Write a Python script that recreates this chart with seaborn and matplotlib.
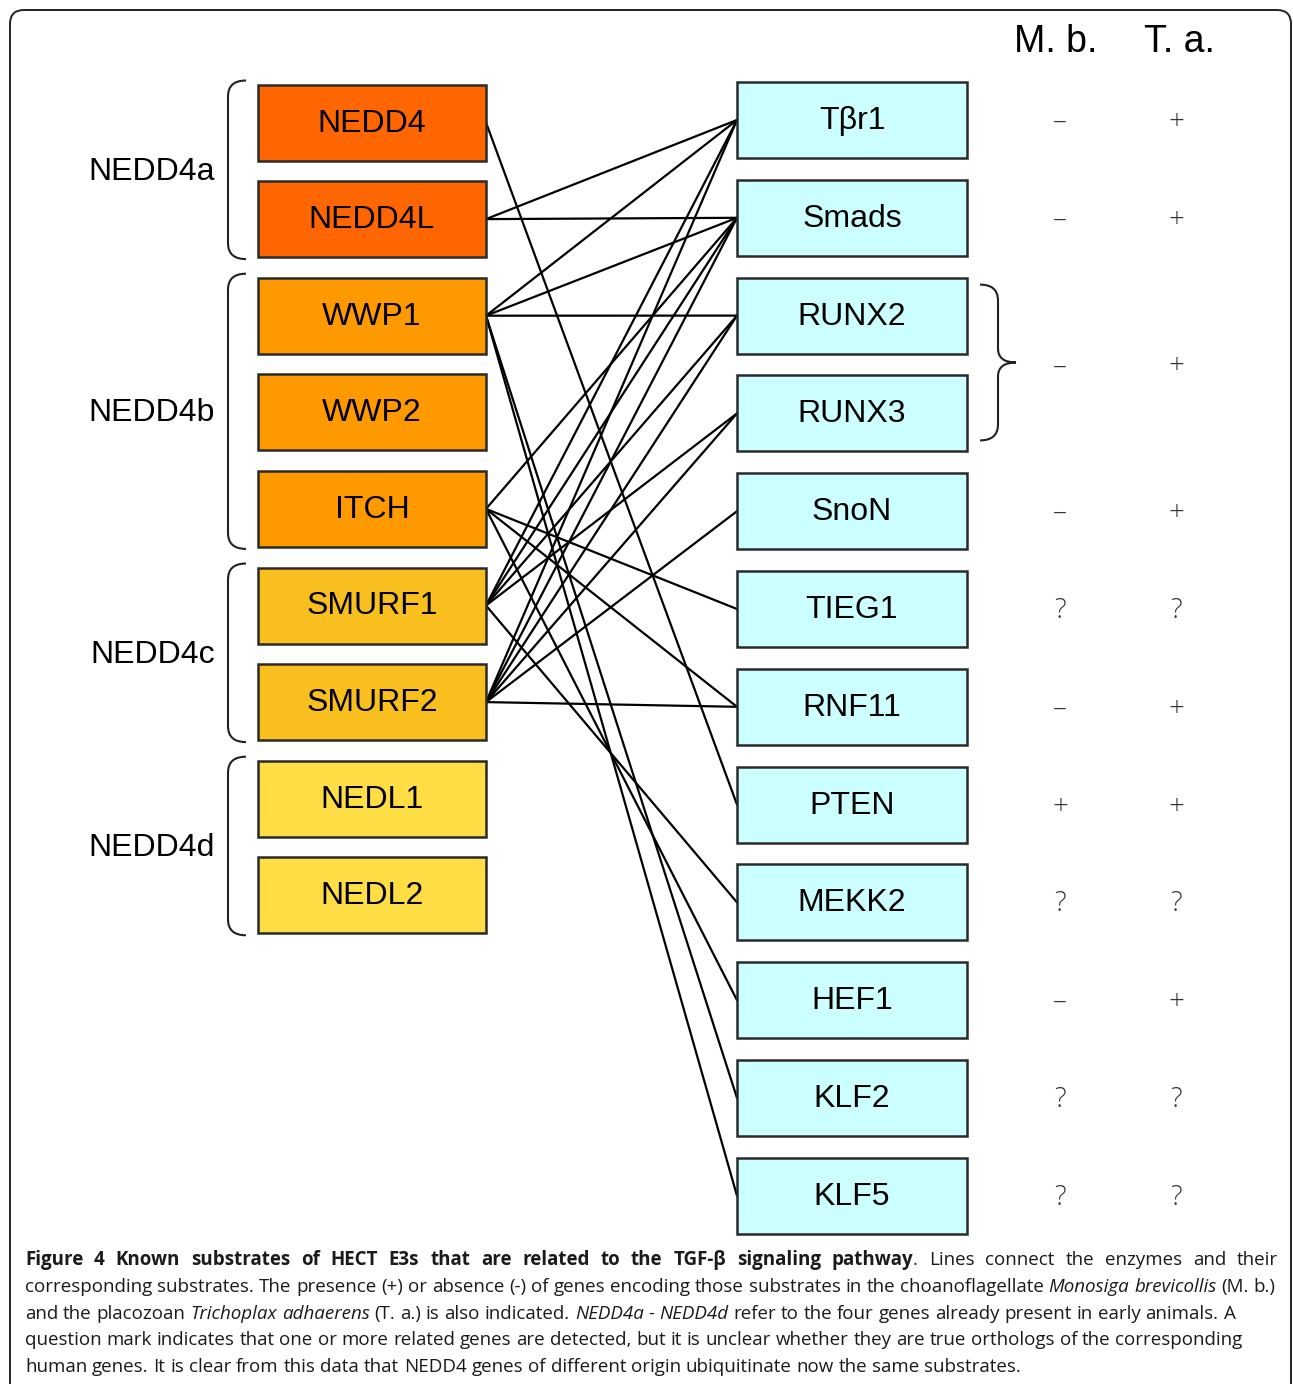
import numpy as np
import pandas as pd
import matplotlib
matplotlib.use("Agg")
import matplotlib.pyplot as plt
import seaborn as sns
from matplotlib.patches import FancyBboxPatch, PathPatch
from matplotlib.path import Path

sns.set_style("white")
plt.rcParams["font.family"] = ["Liberation Sans", "DejaVu Sans"]

# enzymes (left column) and the NEDD4 subfamily they belong to
enzymes = ["NEDD4", "NEDD4L", "WWP1", "WWP2", "ITCH", "SMURF1", "SMURF2", "NEDL1", "NEDL2"]
enzyme_group = ["NEDD4a", "NEDD4a", "NEDD4b", "NEDD4b", "NEDD4b", "NEDD4c", "NEDD4c", "NEDD4d", "NEDD4d"]
group_names = ["NEDD4a", "NEDD4b", "NEDD4c", "NEDD4d"]
group_colors = ["#FF6600", "#FF9900", "#F8BF1E", "#FFDD44"]

# substrates (right column)
substrates = ["Tβr1", "Smads", "RUNX2", "RUNX3", "SnoN", "TIEG1", "RNF11",
              "PTEN", "MEKK2", "HEF1", "KLF2", "KLF5"]

# enzyme -> substrate links
links = [("NEDD4", "PTEN"),
         ("NEDD4L", "Tβr1"), ("NEDD4L", "Smads"),
         ("WWP1", "Tβr1"), ("WWP1", "Smads"), ("WWP1", "RUNX2"), ("WWP1", "KLF2"), ("WWP1", "KLF5"),
         ("ITCH", "Smads"), ("ITCH", "TIEG1"), ("ITCH", "RNF11"), ("ITCH", "HEF1"),
         ("SMURF1", "Tβr1"), ("SMURF1", "Smads"), ("SMURF1", "RUNX2"), ("SMURF1", "RUNX3"), ("SMURF1", "MEKK2"),
         ("SMURF2", "Tβr1"), ("SMURF2", "Smads"), ("SMURF2", "RUNX2"), ("SMURF2", "RUNX3"),
         ("SMURF2", "SnoN"), ("SMURF2", "RNF11")]

# presence in M. brevicollis / T. adhaerens (RUNX2 + RUNX3 share one row)
presence_rows = [["Tβr1"], ["Smads"], ["RUNX2", "RUNX3"], ["SnoN"], ["TIEG1"], ["RNF11"],
                 ["PTEN"], ["MEKK2"], ["HEF1"], ["KLF2"], ["KLF5"]]
mb_marks = ["–", "–", "–", "–", "?", "–", "+", "?", "–", "?", "?"]
ta_marks = ["+", "+", "+", "+", "?", "+", "+", "?", "+", "?", "?"]

caption = [
    [("Figure 4 Known substrates of HECT E3s that are related to the TGF-β signaling pathway", "b"),
     (". Lines connect the enzymes and their", "r")],
    [("corresponding substrates. The presence (+) or absence (-) of genes encoding those substrates in the choanoflagellate ", "r"),
     ("Monosiga brevicollis", "i"), (" (M. b.)", "r")],
    [("and the placozoan ", "r"), ("Trichoplax adhaerens", "i"), (" (T. a.) is also indicated. ", "r"),
     ("NEDD4a - NEDD4d", "i"), (" refer to the four genes already present in early animals. A", "r")],
    [("question mark indicates that one or more related genes are detected, but it is unclear whether they are true orthologs of the corresponding", "r")],
    [("human genes. It is clear from this data that NEDD4 genes of different origin ubiquitinate now the same substrates.", "r")],
]
caption_justify = [1278, None, None, None, None]

# layout (pixel space)
W, H = 1293, 1384
LX, LW = 258, 228
RX, RW = 737, 230
BOX_H = 76
left_y = {e: 122.5 + 96.6 * i for i, e in enumerate(enzymes)}
right_y = {s: 120 + 97.8 * j for j, s in enumerate(substrates)}

fig = plt.figure(figsize=(W / 100, H / 100), dpi=100)
ax = fig.add_axes([0, 0, 1, 1])

# connection lines
rows = []
for k, (e, s) in enumerate(links):
    rows.append({"link": k, "x": LX + LW, "y": left_y[e]})
    rows.append({"link": k, "x": RX, "y": right_y[s]})
df = pd.DataFrame(rows)
sns.lineplot(data=df, x="x", y="y", units="link", estimator=None, sort=False,
             color="black", lw=1.6, ax=ax, zorder=1)

# boxes
col_of = dict(zip(group_names, group_colors))
ax.barh([left_y[e] for e in enzymes], LW, left=LX, height=BOX_H,
        color=[col_of[g] for g in enzyme_group], edgecolor="#2a2a2a", linewidth=1.8, zorder=2)
ax.barh([right_y[s] for s in substrates], RW, left=RX, height=BOX_H,
        color="#CCFFFF", edgecolor="#2a2a2a", linewidth=1.8, zorder=2)
for e in enzymes:
    ax.text(LX + LW / 2, left_y[e] + 1, e, ha="center", va="center", fontsize=23, color="black", zorder=3)
for s in substrates:
    ax.text(RX + RW / 2, right_y[s] + 1, s, ha="center", va="center", fontsize=23, color="black", zorder=3)

# group brackets and labels
def left_bracket(top, bot, x0=246, x1=228, r=16):
    verts = [(x0, top), (x1, top), (x1, top + r), (x1, bot - r), (x1, bot), (x0, bot)]
    codes = [Path.MOVETO, Path.CURVE3, Path.CURVE3, Path.LINETO, Path.CURVE3, Path.CURVE3]
    ax.add_patch(PathPatch(Path(verts, codes), fc="none", ec="#222222", lw=1.5))

for g in group_names:
    members = [e for e, gg in zip(enzymes, enzyme_group) if gg == g]
    ys = [left_y[e] for e in members]
    left_bracket(min(ys) - BOX_H / 2 - 4, max(ys) + BOX_H / 2 + 2)
    ax.text(215, np.mean(ys) + 1, g, ha="right", va="center", fontsize=23, color="black")

# right curly brace for RUNX2/RUNX3
top, bot = right_y["RUNX2"] - 31, right_y["RUNX3"] + 27
mid = (top + bot) / 2
verts = [(980, top), (998, top), (998, top + 16), (998, mid - 14), (998, mid), (1016, mid),
         (998, mid), (998, mid + 14), (998, bot - 16), (998, bot), (980, bot)]
codes = [Path.MOVETO, Path.CURVE3, Path.CURVE3, Path.LINETO, Path.CURVE3, Path.CURVE3,
         Path.CURVE3, Path.CURVE3, Path.LINETO, Path.CURVE3, Path.CURVE3]
ax.add_patch(PathPatch(Path(verts, codes), fc="none", ec="#222222", lw=1.5))

# presence columns
ax.text(1056, 42, "M. b.", ha="center", va="center", fontsize=27, color="black")
ax.text(1179, 42, "T. a.", ha="center", va="center", fontsize=27, color="black")
for grp, m, t in zip(presence_rows, mb_marks, ta_marks):
    yy = np.mean([right_y[s] for s in grp]) + 2
    for xx, mark in ((1060, m), (1176, t)):
        ax.text(xx, yy, mark, ha="center", va="center", fontsize=20, color="#333333",
                family=["Open Sans", "DejaVu Sans"], fontweight="light")

# outer frame
ax.add_patch(FancyBboxPatch((10, 10), 1281, 1420, boxstyle="round,pad=0,rounding_size=14",
                            fc="none", ec="#222222", lw=1.4, clip_on=True))

ax.set_xlim(0, W)
ax.set_ylim(H, 0)
ax.axis("off")

# caption, placed word by word so bold / italic runs sit inline
renderer = fig.canvas.get_renderer()

def cap_text(txt, style, x=0, y=0):
    return ax.text(x, y, txt, ha="left", va="center", fontsize=13.5, color="#1a1a1a",
                   family=["Open Sans", "DejaVu Sans"],
                   fontweight="bold" if style == "b" else "normal",
                   fontstyle="italic" if style == "i" else "normal")

def width_of(t):
    bb = t.get_window_extent(renderer=renderer)
    return bb.x1 - bb.x0

probe_a, probe_b = cap_text("x x", "r"), cap_text("xx", "r")
space_w = width_of(probe_a) - width_of(probe_b)
probe_a.remove()
probe_b.remove()

for i, parts in enumerate(caption):
    tokens = []
    pending = False
    for txt, st in parts:
        for k, p in enumerate(txt.split(" ")):
            if k > 0:
                pending = True
            if p == "":
                continue
            tokens.append((p, st, pending and len(tokens) > 0))
            pending = False
    objs = [cap_text(p, st) for p, st, _ in tokens]
    widths = [width_of(o) for o in objs]
    n_gaps = sum(1 for _, _, sp in tokens if sp)
    gap = space_w
    if caption_justify[i] is not None and n_gaps:
        gap = (caption_justify[i] - 25 - sum(widths)) / n_gaps
    x = 25
    y = 1260 + 26.8 * i
    for o, w, (_, _, sp) in zip(objs, widths, tokens):
        if sp:
            x += gap
        o.set_position((x, y))
        x += w

fig.savefig("out.png", dpi=100)
